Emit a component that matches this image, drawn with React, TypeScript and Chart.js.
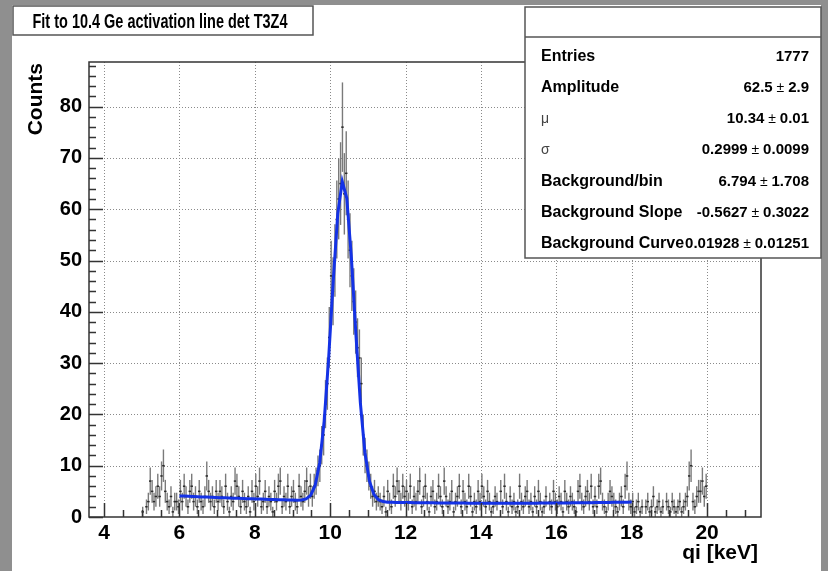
import { useEffect, useRef } from 'react';
import { Chart, registerables } from 'chart.js';

Chart.register(...registerables);

// Histogram: counts per 0.05 keV bin from 5.0 to 20.0 keV (one row per keV)
const binStart = 5.0;
const binWidth = 0.05;
const counts = [
  1, 0, 2, 3, 7, 5, 3, 4, 6, 4, 8, 10, 5, 3, 2, 4, 1, 3, 3, 2, // 5 - 6
  5, 3, 6, 4, 2, 5, 6, 3, 4, 2, 5, 3, 2, 4, 8, 5, 3, 4, 2, 5, // 6 - 7
  3, 5, 4, 2, 6, 3, 1, 4, 3, 7, 6, 4, 2, 5, 3, 2, 4, 1, 5, 3, // 7 - 8
  6, 4, 7, 2, 3, 5, 2, 4, 3, 1, 5, 3, 6, 7, 2, 4, 3, 6, 2, 4, // 8 - 9
  5, 3, 2, 6, 4, 3, 5, 7, 4, 6, 4, 6, 7, 9, 10, 14, 16, 22, 26, 35, // 9 - 10
  47, 44, 50, 58, 62, 65, 76, 63, 67, 58, 52, 47, 42, 38, 33, 31, 26, 16, 12, 10, // 10 - 11
  8, 6, 4, 5, 3, 4, 3, 2, 4, 1, 5, 3, 2, 6, 4, 7, 5, 3, 6, 4, // 11 - 12
  5, 3, 6, 2, 4, 3, 5, 7, 2, 4, 6, 3, 1, 4, 5, 2, 3, 6, 4, 2, // 12 - 13
  7, 4, 2, 3, 5, 1, 3, 4, 6, 2, 5, 3, 2, 6, 4, 1, 3, 2, 5, 3, // 13 - 14
  6, 4, 2, 5, 3, 1, 2, 4, 3, 0, 5, 2, 6, 3, 1, 4, 2, 3, 1, 2, // 14 - 15
  6, 3, 2, 4, 5, 2, 3, 1, 4, 2, 5, 3, 1, 2, 4, 0, 3, 2, 5, 3, // 15 - 16
  2, 4, 3, 1, 5, 3, 2, 4, 3, 2, 1, 5, 6, 3, 2, 4, 5, 3, 6, 2, // 16 - 17
  4, 2, 6, 7, 3, 2, 1, 3, 5, 4, 3, 2, 1, 3, 4, 2, 6, 8, 3, 2, // 17 - 18
  3, 1, 2, 3, 1, 2, 0, 2, 3, 1, 2, 4, 1, 2, 3, 1, 2, 0, 3, 2, // 18 - 19
  1, 3, 2, 1, 2, 3, 1, 2, 3, 4, 8, 10, 3, 2, 4, 5, 5, 7, 4, 6, // 19 - 20
];

// Axes
const xRange = [3.6, 21.43];
const yRange = [0, 88.7];
const xTickValues = [4, 6, 8, 10, 12, 14, 16, 18, 20];
const yTickValues = [0, 10, 20, 30, 40, 50, 60, 70, 80];
const xMinorStep = 0.5;
const yMinorStep = 2;

// Gaussian + quadratic background fit
const fitRange = [6, 18];
const fitNames = ['Amplitude', 'μ', 'σ', 'Background/bin', 'Background Slope', 'Background Curve'];
const fitValues = [62.5, 10.34, 0.2999, 6.794, -0.5627, 0.01928];
const fitErrors = ['2.9', '0.01', '0.0099', '1.708', '0.3022', '0.01251'];
const entries = 1777;
const fitSegments = 100;

const titleText = 'Fit to 10.4 Ge activation line det T3Z4';
const xTitle = 'qi [keV]';
const yTitle = 'Counts';

const FONT = '"Liberation Sans", Arial, Helvetica, sans-serif';

function fitFunction(x: number): number {
  const [amp, mu, sigma, b0, b1, b2] = fitValues;
  const z = (x - mu) / sigma;
  return amp * Math.exp(-0.5 * z * z) + b0 + b1 * x + b2 * x * x;
}

const histData = counts.map((n, i) => ({ x: binStart + (i + 0.5) * binWidth, y: n }));
const fitData = Array.from({ length: fitSegments + 1 }, (_, i) => {
  const x = fitRange[0] + ((fitRange[1] - fitRange[0]) * i) / fitSegments;
  return { x, y: fitFunction(x) };
});

const rootStyle = {
  id: 'rootStyle',
  beforeDraw(chart: any) {
    const { ctx, width, height } = chart;
    ctx.save();
    ctx.fillStyle = '#8f8f8f';
    ctx.fillRect(0, 0, width, height);
    ctx.fillStyle = '#ffffff';
    ctx.fillRect(12, 5, 809, height - 5);
    ctx.restore();
  },
  beforeDatasetsDraw(chart: any) {
    const { ctx, chartArea: a, scales } = chart;
    const xs = scales.x;
    const ys = scales.y;
    ctx.save();
    // dotted grid at major ticks
    ctx.strokeStyle = '#8a8a8a';
    ctx.lineWidth = 1;
    ctx.setLineDash([1, 2]);
    xTickValues.forEach((v) => {
      const px = Math.round(xs.getPixelForValue(v)) + 0.5;
      ctx.beginPath();
      ctx.moveTo(px, a.top);
      ctx.lineTo(px, a.bottom);
      ctx.stroke();
    });
    yTickValues.forEach((v) => {
      if (v <= yRange[0]) return;
      const py = Math.round(ys.getPixelForValue(v)) + 0.5;
      ctx.beginPath();
      ctx.moveTo(a.left, py);
      ctx.lineTo(a.right, py);
      ctx.stroke();
    });
    ctx.setLineDash([]);

    // histogram with Poisson error bars
    const data = chart.data.datasets[0].data as { x: number; y: number }[];
    data.forEach((p) => {
      if (p.y <= 0) return;
      const err = Math.sqrt(p.y);
      const xc = xs.getPixelForValue(p.x);
      const xl = xs.getPixelForValue(p.x - binWidth / 2);
      const xr = xs.getPixelForValue(p.x + binWidth / 2);
      const yc = ys.getPixelForValue(p.y);
      const yt = ys.getPixelForValue(Math.min(p.y + err, yRange[1]));
      const yb = ys.getPixelForValue(Math.max(p.y - err, 0));
      ctx.strokeStyle = '#7a7a7a';
      ctx.lineWidth = 1.4;
      ctx.beginPath();
      ctx.moveTo(xc, yt);
      ctx.lineTo(xc, yb);
      ctx.stroke();
      ctx.strokeStyle = '#2a2a2a';
      ctx.lineWidth = 1.5;
      ctx.beginPath();
      ctx.moveTo(xl - 0.3, yc);
      ctx.lineTo(xr + 0.3, yc);
      ctx.stroke();
    });
    ctx.restore();
  },
  afterDatasetsDraw(chart: any) {
    const { ctx, chartArea: a, scales } = chart;
    const xs = scales.x;
    const ys = scales.y;
    ctx.save();
    ctx.strokeStyle = '#333';
    ctx.lineWidth = 1.5;
    // frame
    ctx.strokeRect(a.left, a.top, a.right - a.left, a.bottom - a.top);
    // x ticks
    ctx.beginPath();
    const x0 = Math.ceil(xRange[0] / xMinorStep) * xMinorStep;
    for (let v = x0; v <= xRange[1] + 1e-9; v += xMinorStep) {
      const major = xTickValues.some((t) => Math.abs(t - v) < 1e-6);
      const px = Math.round(xs.getPixelForValue(v)) + 0.5;
      ctx.moveTo(px, a.bottom);
      ctx.lineTo(px, a.bottom - (major ? 14 : 7));
    }
    // y ticks
    const y0 = Math.ceil(yRange[0] / yMinorStep) * yMinorStep;
    for (let v = y0; v <= yRange[1] + 1e-9; v += yMinorStep) {
      const major = yTickValues.some((t) => Math.abs(t - v) < 1e-6);
      const py = Math.round(ys.getPixelForValue(v)) + 0.5;
      ctx.moveTo(a.left, py);
      ctx.lineTo(a.left + (major ? 14 : 7), py);
    }
    ctx.stroke();
    ctx.restore();
  },
  afterDraw(chart: any) {
    const { ctx, chartArea: a } = chart;
    ctx.save();
    ctx.fillStyle = '#000';

    // axis titles
    ctx.font = `bold 21px ${FONT}`;
    ctx.textAlign = 'right';
    ctx.textBaseline = 'middle';
    ctx.fillText(xTitle, a.right - 3, 553);
    ctx.save();
    ctx.translate(36, a.top + 1);
    ctx.rotate(-Math.PI / 2);
    ctx.textAlign = 'right';
    ctx.fillText(yTitle, 0, 0);
    ctx.restore();

    // title box
    ctx.fillStyle = '#fff';
    ctx.fillRect(13, 6, 300, 29);
    ctx.strokeStyle = '#555';
    ctx.lineWidth = 1.5;
    ctx.strokeRect(13, 6, 300, 29);
    ctx.fillStyle = '#000';
    ctx.font = `bold 21px ${FONT}`;
    const tw = ctx.measureText(titleText).width;
    ctx.save();
    ctx.translate(160, 28);
    ctx.scale(255 / tw, 1);
    ctx.textAlign = 'center';
    ctx.textBaseline = 'alphabetic';
    ctx.fillText(titleText, 0, 0);
    ctx.restore();

    // statistics box
    const bx = 525, by = 7, bw = 296, bh = 251;
    ctx.fillStyle = '#fff';
    ctx.fillRect(bx, by, bw, bh);
    ctx.strokeStyle = '#555';
    ctx.lineWidth = 1.5;
    ctx.strokeRect(bx, by, bw, bh);
    ctx.beginPath();
    ctx.moveTo(bx, 37);
    ctx.lineTo(bx + bw, 37);
    ctx.stroke();

    const rows: { name: string; value: string; error: string }[] = [
      { name: 'Entries', value: String(entries), error: '' },
      ...fitNames.map((n, i) => ({ name: n, value: String(fitValues[i]), error: fitErrors[i] })),
    ];
    const leftX = 541;
    const rightX = 809;
    ctx.textBaseline = 'alphabetic';
    rows.forEach((r, i) => {
      const base = 55 + i * 31.3 + 5.5;
      const greek = r.name === 'μ' || r.name === 'σ';
      ctx.fillStyle = greek ? '#444' : '#000';
      ctx.font = greek ? `14px ${FONT}` : `bold 16px ${FONT}`;
      ctx.textAlign = 'left';
      ctx.fillText(r.name, leftX, base);
      ctx.fillStyle = '#000';
      ctx.textAlign = 'right';
      ctx.font = `bold 15px ${FONT}`;
      if (!r.error) {
        ctx.fillText(r.value, rightX, base);
        return;
      }
      const ew = ctx.measureText(r.error).width;
      ctx.fillText(r.error, rightX, base);
      ctx.font = `14px ${FONT}`;
      const pm = ' ± ';
      const pw = ctx.measureText(pm).width;
      ctx.fillText(pm, rightX - ew, base);
      ctx.font = `bold 15px ${FONT}`;
      ctx.fillText(r.value, rightX - ew - pw, base);
    });
    ctx.restore();
  },
};

export default function App() {
  const canvasRef = useRef<HTMLCanvasElement | null>(null);

  useEffect(() => {
    const canvas = canvasRef.current;
    if (!canvas) return;
    const chart = new Chart(canvas, {
      type: 'scatter',
      data: {
        datasets: [
          {
            label: 'qi',
            data: histData,
            showLine: false,
            pointRadius: 0,
            pointHoverRadius: 0,
          },
          {
            label: 'fit',
            data: fitData,
            showLine: true,
            borderColor: '#1432e6',
            borderWidth: 3,
            pointRadius: 0,
            pointHoverRadius: 0,
            tension: 0,
            fill: false,
          },
        ],
      },
      options: {
        responsive: false,
        animation: false,
        devicePixelRatio: 1,
        events: [],
        layout: { padding: { left: 0, right: 67, top: 62, bottom: 0 } },
        plugins: {
          legend: { display: false },
          tooltip: { enabled: false },
          title: { display: false },
        },
        scales: {
          x: {
            type: 'linear',
            min: xRange[0],
            max: xRange[1],
            grid: { display: false, drawTicks: false },
            border: { display: false },
            ticks: {
              color: '#000',
              font: { family: FONT, size: 21, weight: 'bold' },
              padding: 4,
              maxRotation: 0,
              autoSkip: false,
              callback: (v: any) => String(v),
            },
            afterBuildTicks: (s: any) => {
              s.ticks = xTickValues.map((v) => ({ value: v }));
            },
            afterFit: (s: any) => {
              s.height = 54;
            },
          },
          y: {
            type: 'linear',
            min: yRange[0],
            max: yRange[1],
            grid: { display: false, drawTicks: false },
            border: { display: false },
            ticks: {
              color: '#000',
              font: { family: FONT, size: 20, weight: 'bold' },
              padding: 7,
              autoSkip: false,
              callback: (v: any) => String(v),
            },
            afterBuildTicks: (s: any) => {
              s.ticks = yTickValues.map((v) => ({ value: v }));
            },
            afterFit: (s: any) => {
              s.width = 89;
            },
          },
        },
      },
      plugins: [rootStyle],
    });
    return () => chart.destroy();
  }, []);

  return (
    <div style={{ position: 'fixed', left: 0, top: 0, width: 828, height: 571, overflow: 'hidden' }}>
      <canvas ref={canvasRef} width={828} height={571} style={{ display: 'block', width: 828, height: 571 }} />
    </div>
  );
}
